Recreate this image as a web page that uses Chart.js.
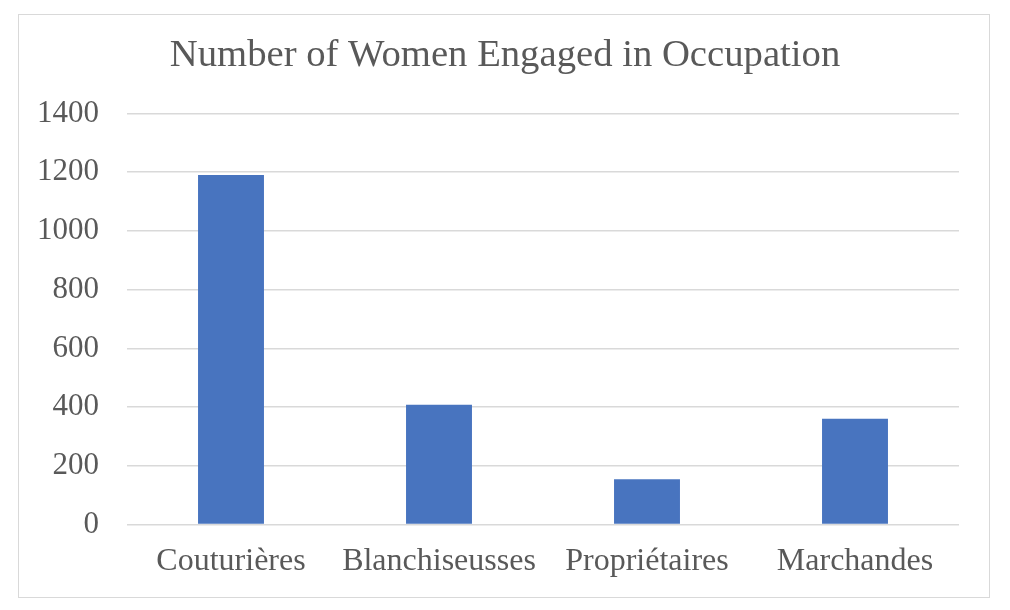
<!DOCTYPE html>
<html>
<head>
<meta charset="utf-8">
<script src="https://cdn.jsdelivr.net/npm/chart.js@4"></script>
<style>
  html, body { margin: 0; padding: 0; background: #ffffff; overflow: hidden; }
  #wrap { position: absolute; left: 0; top: 0; width: 1010px; height: 610px; }
  #frame { position: absolute; left: 18px; top: 14px; width: 970px; height: 582px; border: 1.5px solid #d9d9d9; pointer-events: none; }
</style>
</head>
<body>
<div id="wrap"><canvas id="c" width="1010" height="610"></canvas></div>
<div id="frame"></div>
<script>
const titleText = "Number of Women Engaged in Occupation";
const categories = ["Couturières", "Blanchiseusses", "Propriétaires", "Marchandes"];
const womenCounts = [1190, 408, 154, 360];
const yTicks = [0, 200, 400, 600, 800, 1000, 1200, 1400];

const textColor = "#595959";
const gridColor = "#d9d9d9";
const fontFamily = "'Liberation Serif', 'Times New Roman', serif";

new Chart(document.getElementById("c"), {
  type: "bar",
  data: {
    labels: categories,
    datasets: [{
      label: "Number of Women",
      data: womenCounts,
      backgroundColor: "#4874BF",
      borderWidth: 0,
      categoryPercentage: 1.0,
      barPercentage: 0.317
    }]
  },
  options: {
    responsive: false,
    animation: false,
    devicePixelRatio: 1,
    layout: { padding: { left: 0, right: 0, top: 0, bottom: 11 } },
    plugins: {
      legend: { display: false },
      tooltip: { enabled: false },
      title: {
        display: true,
        text: titleText,
        color: textColor,
        font: { family: fontFamily, size: 38.7, weight: "normal", lineHeight: 1.2 },
        padding: { top: 33, bottom: 34 }
      }
    },
    scales: {
      x: {
        grid: { display: false, drawTicks: false },
        border: { display: false },
        ticks: {
          color: textColor,
          font: { family: fontFamily, size: 32, lineHeight: 1.2 },
          padding: 18,
          maxRotation: 0,
          autoSkip: false
        }
      },
      y: {
        min: yTicks[0],
        max: yTicks[yTicks.length - 1],
        afterBuildTicks: (scale) => { scale.ticks = yTicks.map(v => ({ value: v })); },
        afterFit: (scale) => { scale.width = 127; },
        grid: { color: gridColor, lineWidth: 1.5, drawTicks: false },
        border: { display: false },
        ticks: {
          color: textColor,
          font: { family: fontFamily, size: 31, lineHeight: 1.2 },
          padding: 28,
          callback: (v) => String(v)
        }
      },
      yRightSpacer: {
        type: "linear",
        position: "right",
        display: true,
        afterFit: (scale) => { scale.width = 51; },
        grid: { display: false, drawTicks: false },
        border: { display: false },
        ticks: { display: false }
      }
    }
  }
});
</script>
</body>
</html>
